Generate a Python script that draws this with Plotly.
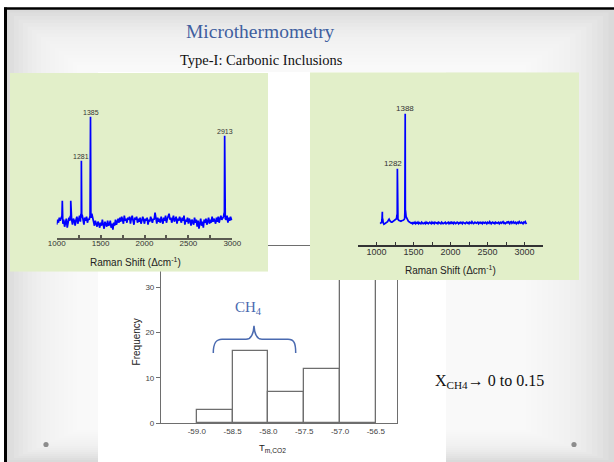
import plotly.graph_objects as go

W, H = 614, 462

# ---------------- data ----------------
# Histogram of T_m,CO2
tm_bin_centers = [-58.75, -58.25, -57.75, -57.25, -56.75]
tm_counts = [3, 16, 7, 12, 45]
tm_tick_vals = [-59.0, -58.5, -58.0, -57.5, -57.0, -56.5]
tm_tick_text = ["-59.0", "-58.5", "-58.0", "-57.5", "-57.0", "-56.5"]
freq_tick_vals = [0, 10, 20, 30]

# Raman spectra tick values
raman_major_ticks = [1000, 1500, 2000, 2500, 3000]
raman_minor_ticks = [1250, 1750, 2250, 2750]

# Left spectrum: baseline noise sampled every 10 cm-1 from 1000 to 3000
left_grid_shift = list(range(1000, 3001, 10))
left_grid_int = [
    -3, 2, -1, 4, 1, 3, 6, -2, 2, -5,
    -1, 3, -6, -2, 4, 1, 5, 2, -3, 3,
    1, -4, 2, 5, -2, 3, 6, 0, 4, 7,
    2, -3, 4, 1, 5, -1, 3, 2, 6, 4,
    8, 3, -2, -4, 1, -3, -5, 0, -2, -6,
    -1, -4, 2, -3, -7, 0, -2, -5, 1, -4,
    -3, 1, -6, -2, -8, -1, -4, 2, -3, 0,
    3, -1, 4, 0, 5, 2, -2, 6, 1, 3,
    -1, 4, 2, 5, -2, 3, 6, 1, -3, 4,
    2, 5, -1, 3, 0, 4, -2, 1, 5, 2,
    -2, 3, 1, 4, -3, 2, 0, 5, 1, -1,
    3, 2, 9, 1, -2, 4, 0, 3, -1, 5,
    2, -2, 4, 1, 6, -1, 3, 5, 8, 2,
    4, -1, 3, 6, 0, 2, 5, -2, 3, 1,
    5, 2, -1, 4, 1, 6, -3, 2, 0, 4,
    -2, 3, 1, -4, 2, 0, -3, 4, -1, 2,
    -5, 1, -7, -2, 3, -4, 0, -6, 2, -1,
    3, -3, 1, 4, -2, 2, -1, 5, 0, 3,
    1, -2, 4, 0, 5, -1, 3, 6, 2, 4,
    5, 7, 3, 2, 6, -1, 4, 1, 5, 2,
    3,
]
# Left spectrum: peak points
left_peak_shift = [1058, 1064, 1069, 1154, 1160, 1166, 1276, 1281, 1285,
                   1380, 1385, 1389, 2908, 2913, 2917]
left_peak_int = [6, 21, 4, 6, 21, 3, 8, 61, 6, 10, 105, 12, 9, 86, 10]
left_labels = [1281, 1385, 2913]
left_label_int = [61, 105, 86]

# Right spectrum: baseline sampled every 10 cm-1 from 1050 to 3030
right_grid_shift = list(range(1050, 3031, 10))
right_grid_int = [
    -1, -0.5, 0.5, 1, 0, -1.5, -1, -0.5, 0, 0.5,
    1, 2.5, 3.5, 2, 1, 0.5, 0.5, 1, 1.5, 2,
    2.5, 3.5, 4, 6, 3.5, 2.5, 2, 2, 1.5, 2,
    2, 2.5, 3, 4, 7, 6, 4, 2.5, 1.5, 1,
    0.5, 0, -0.5, 0, -1, 0, -0.5, 0.5, -1, 0,
    -0.5, 0.5, -1, 0, -0.5, -1, 0.5, 0, -1, -0.5,
    0, -1, 0.5, -0.5, 0, -1, 0, 0.5, -0.5, -1,
    0.5, -0.5, 0, -1, 0.5, 0, -0.5, 0, -1, 0.5,
    0, -0.5, -1, 0.5, 0, -1, -0.5, 0, 0.5, -1,
    -0.5, 0, 0.5, -1, 0, -0.5, 1, -0.5, 0, -1,
    0.5, 0, -1, -0.5, 0.5, 0, -1, 0, -0.5, 0.5,
    0, -1, 0.5, 0, -0.5, -1, 0, 0.5, -0.5, 0,
    -1, 0.5, 0, -0.5, 1, 0, -1, -0.5, 0.5, 0,
    -0.5, 0, 1, -1, 0, 0.5, -0.5, 0, -1, 0.5,
    0, -0.5, 0.5, 0, -1, 0.5, 0, -0.5, 1, 0,
    -1, 0, 0.5, -0.5, 0, -1, 0.5, 0, -0.5, 0,
    0.5, -1, 0, 0.5, -0.5, 0, 1, -0.5, 0, -1,
    0, 0.5, -0.5, 1.5, 0, -1, 0.5, 1, -0.5, 0,
    1, -0.5, 0, 0.5, -1, 0, 0.5, -0.5, 1, 0,
    -0.5, 0.5, 0, -1, 0.5, 0, 1, -0.5, 0,
]
right_peak_shift = [1074, 1079, 1084, 1277, 1282, 1286, 1383, 1388, 1392]
right_peak_int = [3, 11, 4, 8, 54, 9, 10, 109, 12]
right_labels = [1282, 1388]
right_label_int = [54, 109]


def merged(gx, gy, px_, py_):
    pts = sorted(list(zip(gx, gy)) + list(zip(px_, py_)))
    return [p[0] for p in pts], [p[1] for p in pts]


lx, ly = merged(left_grid_shift, left_grid_int, left_peak_shift, left_peak_int)
rx, ry = merged(right_grid_shift, right_grid_int, right_peak_shift, right_peak_int)


# ---------------- helpers (pixel -> paper) ----------------
def fx(x):
    return x / W


def fy(y):
    return 1 - y / H


SERIF = "Liberation Serif, Times New Roman, serif"
SANS = "Liberation Sans, Arial, sans-serif"
GREEN = "#e2efc9"

fig = go.Figure()

# 1) histogram (xy)
fig.add_trace(go.Bar(x=tm_bin_centers, y=tm_counts, width=0.5,
                     marker=dict(color="white", line=dict(color="#6e6e6e", width=1.3)),
                     xaxis="x", yaxis="y", hoverinfo="skip"))
# 2) left green panel (x2y2)  3) right green panel (x3y3)
for ax in ("2", "3"):
    fig.add_trace(go.Scatter(x=[0, 1, 1, 0, 0], y=[0, 0, 1, 1, 0], mode="lines",
                             fill="toself", fillcolor=GREEN, line=dict(width=0),
                             xaxis="x" + ax, yaxis="y" + ax, hoverinfo="skip"))
# 4) left spectrum
fig.add_trace(go.Scatter(x=lx, y=ly, mode="lines", line=dict(color="#0000ff", width=1.7),
                         xaxis="x4", yaxis="y4", hoverinfo="skip"))
# 5) right spectrum
fig.add_trace(go.Scatter(x=rx, y=ry, mode="lines", line=dict(color="#0000ff", width=1.7),
                         xaxis="x5", yaxis="y5", hoverinfo="skip"))

hidden = dict(visible=False, range=[0, 1], automargin=False)

fig.update_layout(
    width=W, height=H, margin=dict(l=0, r=0, t=0, b=0, pad=0, autoexpand=False),
    paper_bgcolor="white", plot_bgcolor="rgba(0,0,0,0)",
    showlegend=False, bargap=0,
    xaxis=dict(domain=[fx(161), fx(397.3)], range=[-59.5, -56.2], anchor="y", automargin=False,
               showline=True, linecolor="#6e6e6e", linewidth=1.2, mirror=True,
               ticks="", tickvals=tm_tick_vals, ticktext=tm_tick_text,
               tickfont=dict(family=SANS, size=8, color="#444"),
               showgrid=False, zeroline=False),
    yaxis=dict(domain=[fy(423.3), fy(246)], range=[0, 39.1], anchor="x", automargin=False,
               showline=True, linecolor="#6e6e6e", linewidth=1.2, mirror=True,
               ticks="outside", ticklen=4, tickcolor="#6e6e6e", tickvals=freq_tick_vals,
               tickfont=dict(family=SANS, size=8, color="#444"),
               showgrid=False, zeroline=False),
    xaxis2=dict(domain=[fx(10), fx(268)], anchor="y2", **hidden),
    yaxis2=dict(domain=[fy(271.7), fy(73)], anchor="x2", **hidden),
    xaxis3=dict(domain=[fx(310), fx(579)], anchor="y3", **hidden),
    yaxis3=dict(domain=[fy(280), fy(72.3)], anchor="x3", **hidden),
    xaxis4=dict(domain=[fx(56.7), fx(232.3)], range=[1000, 3000], anchor="y4", automargin=False,
                showline=True, linecolor="#5a5a50", linewidth=2,
                ticks="inside", ticklen=3, tickwidth=1.5, tickcolor="#5a5a50",
                tickvals=raman_major_ticks, ticklabelstandoff=-4,
                minor=dict(tickvals=raman_minor_ticks, ticks="inside", ticklen=3,
                           tickwidth=1.5, tickcolor="#5a5a50"),
                tickfont=dict(family=SANS, size=8, color="#333"),
                showgrid=False, zeroline=False),
    yaxis4=dict(domain=[fy(238.3), fy(100)], range=[-16.6, 121.7], anchor="x4",
                visible=False, automargin=False),
    xaxis5=dict(domain=[fx(358), fx(543)], range=[750, 3250], anchor="y5", automargin=False,
                showline=True, linecolor="#333", linewidth=1.5,
                ticks="inside", ticklen=3, tickwidth=1.2, tickcolor="#333",
                tickvals=raman_major_ticks, ticklabelstandoff=-3,
                minor=dict(tickvals=raman_minor_ticks, ticks="inside", ticklen=3,
                           tickwidth=1.2, tickcolor="#333"),
                tickfont=dict(family=SANS, size=9, color="#333"),
                showgrid=False, zeroline=False),
    yaxis5=dict(domain=[fy(245), fy(100)], range=[-22.3, 122.7], anchor="x5",
                visible=False, automargin=False),
)

# ---------------- slide decoration ----------------
shapes = []
# gradient-like slide background
shapes.append(dict(type="rect", xref="paper", yref="paper", x0=fx(5), x1=1, y0=0, y1=fy(9),
                   fillcolor="#dadada", line=dict(width=0), layer="below"))
for i in range(1, 21):
    shapes.append(dict(type="rect", xref="paper", yref="paper",
                       x0=fx(5 + 4.5 * i), x1=fx(614 - 5.5 * i), y0=fy(462 - 2 * i),
                       y1=fy(9 + 3.5 * i),
                       fillcolor="white", opacity=0.13, line=dict(width=0), layer="below"))
# white figure background behind histogram
shapes.append(dict(type="rect", xref="paper", yref="paper", x0=fx(98), x1=fx(446), y0=0, y1=fy(72),
                   fillcolor="white", line=dict(width=0), layer="below"))
# black slide border (top and left)
shapes.append(dict(type="line", xref="paper", yref="paper", x0=fx(4), x1=1, y0=fy(8.5), y1=fy(8.5),
                   line=dict(color="black", width=2.5), layer="above"))
shapes.append(dict(type="line", xref="paper", yref="paper", x0=fx(5.5), x1=fx(5.5), y0=0, y1=fy(7.5),
                   line=dict(color="black", width=3), layer="above"))
# slide bullets
for cx in (46, 574):
    shapes.append(dict(type="circle", xref="paper", yref="paper",
                       x0=fx(cx - 2.6), x1=fx(cx + 2.6), y0=fy(444.5 + 2.6), y1=fy(444.5 - 2.6),
                       fillcolor="#8c8c8c", line=dict(width=0), layer="above"))


# curly brace over CH4 bins
def pt(x, y):
    return f"{fx(x):.5f},{fy(y):.5f}"


brace = ("M " + pt(213.3, 353) +
         " C " + pt(213.3, 343) + " " + pt(216, 339.3) + " " + pt(222, 339.3) +
         " L " + pt(246, 339.3) +
         " C " + pt(251, 339.3) + " " + pt(253.5, 334) + " " + pt(254, 325.7) +
         " C " + pt(254.5, 334) + " " + pt(257, 339.3) + " " + pt(262, 339.3) +
         " L " + pt(288, 339.3) +
         " C " + pt(294, 339.3) + " " + pt(295.7, 343) + " " + pt(295.7, 353))
shapes.append(dict(type="path", xref="paper", yref="paper", path=brace,
                   line=dict(color="#4a6ab0", width=1.5), layer="above"))
fig.update_layout(shapes=shapes)

# ---------------- text ----------------
ann = []


def text(x, y, s, size, color="#222", family=SANS, xanchor="center", **kw):
    ann.append(dict(x=fx(x), y=fy(y), xref="paper", yref="paper", text=s, showarrow=False,
                    xanchor=xanchor, yanchor="middle",
                    font=dict(family=family, size=size, color=color), **kw))


text(260, 31.7, "Microthermometry", 19.5, color="#3f5f9f", family=SERIF)
text(261.5, 60, "Type-I: Carbonic Inclusions", 14.5, color="#111", family=SERIF)
text(135, 261.7, "Raman Shift (Δcm<sup>-1</sup>)", 10)
text(450, 270, "Raman Shift (Δcm<sup>-1</sup>)", 10)
text(136.7, 341.7, "Frequency", 10, textangle=-90)
text(272, 447.5, "T<sub>m,CO2</sub>", 9.5)
text(248, 308, "CH<sub>4</sub>", 15, color="#4a6ab0", family=SERIF)
text(433, 381, "X<sub>CH4</sub>→ 0 to 0.15", 16, color="#111", family=SERIF, xanchor="left")

for sx, si in zip(left_labels, left_label_int):
    ann.append(dict(x=sx, y=si, xref="x4", yref="y4", text=str(sx), showarrow=False,
                    yanchor="bottom", yshift=-1,
                    font=dict(family=SANS, size=7, color="#333")))
for k, (sx, si) in enumerate(zip(right_labels, right_label_int)):
    ann.append(dict(x=sx, y=si, xref="x5", yref="y5", text=str(sx), showarrow=False,
                    yanchor="bottom", yshift=-1, xshift=-4 if k == 0 else 0,
                    font=dict(family=SANS, size=8, color="#333")))
fig.update_layout(annotations=ann)

# remove the browser's default body margin so the slide fills the window
fig.write_html("out.html", config={"displayModeBar": False},
               post_script="document.body.style.margin='0px';")
